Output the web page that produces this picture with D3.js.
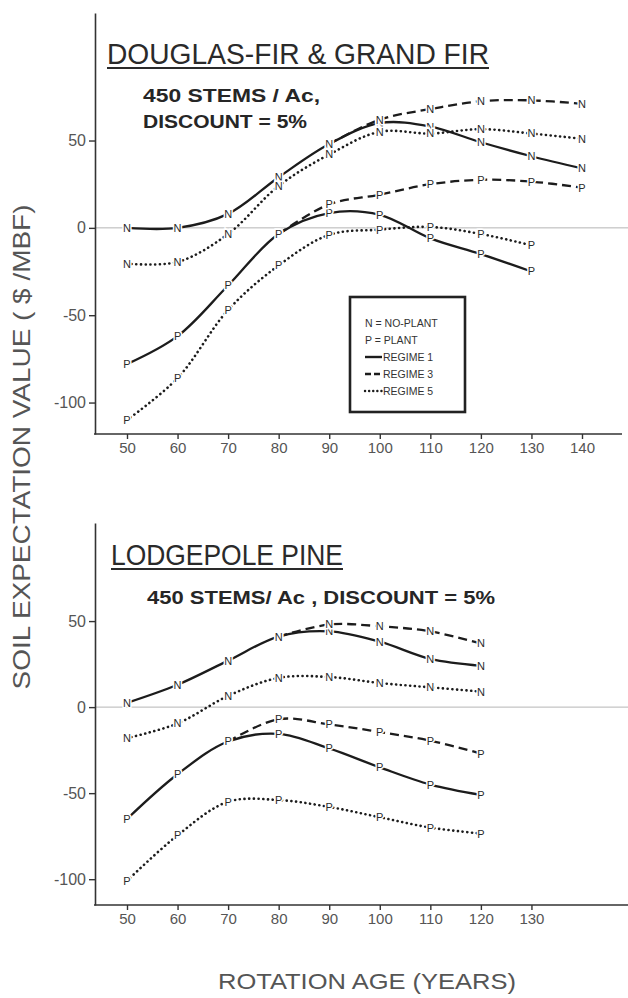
<!DOCTYPE html>
<html>
<head>
<meta charset="utf-8">
<script src="https://cdn.jsdelivr.net/npm/d3@7"></script>
<style>
  body { margin: 0; background: #fff; }
  svg { display: block; font-family: "Liberation Sans", Arial, sans-serif; }
</style>
</head>
<body>
<svg id="chart" width="628" height="998"></svg>
<script>
// rotation ages (years)
const agesTop = [50, 60, 70, 80, 90, 100, 110, 120, 130, 140];
const agesBottom = [50, 60, 70, 80, 90, 100, 110, 120];
const tickAgesTop = [50, 60, 70, 80, 90, 100, 110, 120, 130, 140];
const tickAgesBottom = [50, 60, 70, 80, 90, 100, 110, 120, 130];
const yTicks = [-100, -50, 0, 50];

// Douglas-fir & grand fir, soil expectation value ($/MBF)
const dfNoPlant1 = [0, 0, 8, 29, 48, 60, 58, 49, 41, 34];
const dfNoPlant3 = [null, null, null, null, 48, 62, 68, 72.5, 73, 71];
const dfNoPlant5 = [-20.5, -19.5, -3.5, 24, 42, 55, 54, 56.5, 54, 51];
const dfPlant1 = [-78, -62, -33, -3.5, 8.5, 7.5, -6, -15, -25, null];
const dfPlant3 = [null, null, null, -3.5, 13.5, 19, 25, 27.5, 26.5, 23];
const dfPlant5 = [-110, -86, -47, -21.5, -4, -1, 0.5, -3.5, -10, null];

// Lodgepole pine
const lpNoPlant1 = [2.5, 13, 27, 41, 44, 38, 28, 24];
const lpNoPlant3 = [null, null, null, 41, 48, 47, 44, 37];
const lpNoPlant5 = [-18, -9.5, 6.5, 17, 17.5, 14, 11.5, 9];
const lpPlant1 = [-65, -39, -20, -15.5, -24, -35, -45, -51];
const lpPlant3 = [null, null, -20, -7, -10, -14.5, -19.5, -27];
const lpPlant5 = [-101, -74.5, -55, -54, -58, -64, -70, -73.5];

const ink = "#1c1c1c";
const grey = "#555";
const regimeStyle = {
  1: { dash: null, cap: "butt" },
  3: { dash: "9 5", cap: "butt" },
  5: { dash: "0.1 4.6", cap: "round" }
};

const svg = d3.select("#chart");

const x = d3.scaleLinear().domain([50, 140]).range([127, 582]);

function drawPanel(cfg) {
  const g = svg.append("g");
  const y = d3.scaleLinear().domain(cfg.yDomain).range([cfg.bottom, cfg.top]);

  // zero reference line
  g.append("line")
    .attr("x1", cfg.left).attr("x2", 628)
    .attr("y1", y(0)).attr("y2", y(0))
    .attr("stroke", "#b5b5b5").attr("stroke-width", 1);

  // axes
  const yAxis = g.append("g")
    .attr("transform", `translate(${cfg.left},0)`)
    .call(
      d3.axisLeft(y)
        .tickValues(yTicks)
        .tickFormat((d) => String(d))
        .tickSize(6).tickPadding(3).tickSizeOuter(0)
    );
  yAxis.select(".domain").attr("stroke", "#333").attr("stroke-width", 1.6);
  yAxis.selectAll(".tick line").attr("stroke", "#333").attr("stroke-width", 1.4);
  yAxis.selectAll("text").attr("fill", grey).style("font-size", "16px")
    .style("font-family", "'Liberation Sans', Arial, sans-serif");

  const xAxis = g.append("g")
    .attr("transform", `translate(0,${cfg.bottom})`)
    .call(d3.axisBottom(x).tickValues(cfg.xTicks).tickSize(5).tickPadding(3).tickSizeOuter(0));
  xAxis.select(".domain").remove();
  xAxis.append("line")
    .attr("x1", cfg.left - 1).attr("x2", cfg.right)
    .attr("stroke", "#333").attr("stroke-width", 1.6);
  xAxis.selectAll(".tick line").attr("stroke", "#333").attr("stroke-width", 1.4);
  xAxis.selectAll("text").attr("fill", grey).style("font-size", "15px")
    .style("font-family", "'Liberation Sans', Arial, sans-serif");

  const line = d3.line()
    .defined((d) => d.v != null)
    .x((d) => x(d.age))
    .y((d) => y(d.v))
    .curve(d3.curveCatmullRom.alpha(0.5));

  cfg.series.forEach((s) => {
    const pts = cfg.ages.map((age, i) => ({ age: age, v: s.values[i] }));
    const st = regimeStyle[s.regime];
    g.append("path")
      .datum(pts)
      .attr("d", line)
      .attr("fill", "none")
      .attr("stroke", ink)
      .attr("stroke-width", s.regime === 5 ? 2.6 : 2.3)
      .attr("stroke-linecap", st.cap)
      .attr("stroke-dasharray", st.dash);
  });

  // point letters, drawn last with a white halo so the lines break round them
  cfg.series.forEach((s) => {
    const pts = cfg.ages
      .map((age, i) => ({ age: age, v: s.values[i] }))
      .filter((d) => d.v != null);
    g.selectAll(null)
      .data(pts)
      .enter()
      .append("text")
      .attr("x", (d) => x(d.age))
      .attr("y", (d) => y(d.v))
      .attr("dy", "0.36em")
      .attr("text-anchor", "middle")
      .style("font-size", "11px")
      .attr("fill", "#2a2a2a")
      .attr("stroke", "#fff")
      .attr("stroke-width", 3)
      .attr("paint-order", "stroke")
      .text(s.letter);
  });

  // title with underline
  g.append("text")
    .attr("x", cfg.titleX).attr("y", cfg.titleY)
    .attr("textLength", cfg.titleW)
    .attr("lengthAdjust", "spacingAndGlyphs")
    .style("font-size", "29px")
    .attr("fill", "#2a2a2a")
    .text(cfg.title);
  g.append("line")
    .attr("x1", cfg.titleX).attr("x2", cfg.titleX + cfg.titleW)
    .attr("y1", cfg.titleY + 4).attr("y2", cfg.titleY + 4)
    .attr("stroke", "#2a2a2a").attr("stroke-width", 2.2);

  cfg.notes.forEach((n) => {
    g.append("text")
      .attr("x", n.x).attr("y", n.y)
      .attr("textLength", n.w)
      .attr("lengthAdjust", "spacingAndGlyphs")
      .style("font-size", "19px")
      .style("font-weight", "bold")
      .attr("fill", "#262626")
      .text(n.text);
  });

  return g;
}

drawPanel({
  top: 13, bottom: 434, left: 95, right: 622,
  yDomain: [-118, 123],
  ages: agesTop, xTicks: tickAgesTop,
  series: [
    { letter: "N", regime: 1, values: dfNoPlant1 },
    { letter: "N", regime: 3, values: dfNoPlant3 },
    { letter: "N", regime: 5, values: dfNoPlant5 },
    { letter: "P", regime: 1, values: dfPlant1 },
    { letter: "P", regime: 3, values: dfPlant3 },
    { letter: "P", regime: 5, values: dfPlant5 }
  ],
  title: "DOUGLAS-FIR & GRAND FIR", titleX: 107, titleY: 64, titleW: 382,
  notes: [
    { text: "450 STEMS / Ac,", x: 143, y: 102, w: 177 },
    { text: "DISCOUNT = 5%", x: 143, y: 128, w: 164 }
  ]
});

drawPanel({
  top: 523, bottom: 905, left: 95, right: 628,
  yDomain: [-115, 107],
  ages: agesBottom, xTicks: tickAgesBottom,
  series: [
    { letter: "N", regime: 1, values: lpNoPlant1 },
    { letter: "N", regime: 3, values: lpNoPlant3 },
    { letter: "N", regime: 5, values: lpNoPlant5 },
    { letter: "P", regime: 1, values: lpPlant1 },
    { letter: "P", regime: 3, values: lpPlant3 },
    { letter: "P", regime: 5, values: lpPlant5 }
  ],
  title: "LODGEPOLE PINE", titleX: 111, titleY: 565, titleW: 232,
  notes: [
    { text: "450 STEMS/ Ac , DISCOUNT = 5%", x: 147, y: 604, w: 348 }
  ]
});

// legend
const legend = svg.append("g").attr("transform", "translate(350,297)");
legend.append("rect")
  .attr("width", 115).attr("height", 115)
  .attr("fill", "#fff").attr("stroke", "#222").attr("stroke-width", 2.6);
const legendRows = [
  { text: "N = NO-PLANT", regime: null },
  { text: "P = PLANT", regime: null },
  { text: "REGIME 1", regime: 1 },
  { text: "REGIME 3", regime: 3 },
  { text: "REGIME 5", regime: 5 }
];
legendRows.forEach((r, i) => {
  const yy = 26 + i * 17;
  if (r.regime) {
    const st = regimeStyle[r.regime];
    legend.append("line")
      .attr("x1", 15).attr("x2", 32).attr("y1", yy).attr("y2", yy)
      .attr("stroke", ink).attr("stroke-width", 2.4)
      .attr("stroke-linecap", st.cap)
      .attr("stroke-dasharray", r.regime === 3 ? "6 3" : r.regime === 5 ? "0.1 4" : null);
  }
  legend.append("text")
    .attr("x", r.regime ? 33 : 15).attr("y", yy).attr("dy", "0.36em")
    .style("font-size", "10.5px")
    .attr("fill", "#333")
    .text(r.text);
});

// axis titles
svg.append("text")
  .attr("transform", "translate(30,447) rotate(-90)")
  .attr("text-anchor", "middle")
  .attr("textLength", 485)
  .attr("lengthAdjust", "spacingAndGlyphs")
  .style("font-size", "24px")
  .attr("fill", "#555")
  .text("SOIL EXPECTATION VALUE ( $ /MBF)");

svg.append("text")
  .attr("x", 367).attr("y", 989)
  .attr("text-anchor", "middle")
  .attr("textLength", 298)
  .attr("lengthAdjust", "spacingAndGlyphs")
  .style("font-size", "22px")
  .attr("fill", "#555")
  .text("ROTATION AGE (YEARS)");
</script>
</body>
</html>
